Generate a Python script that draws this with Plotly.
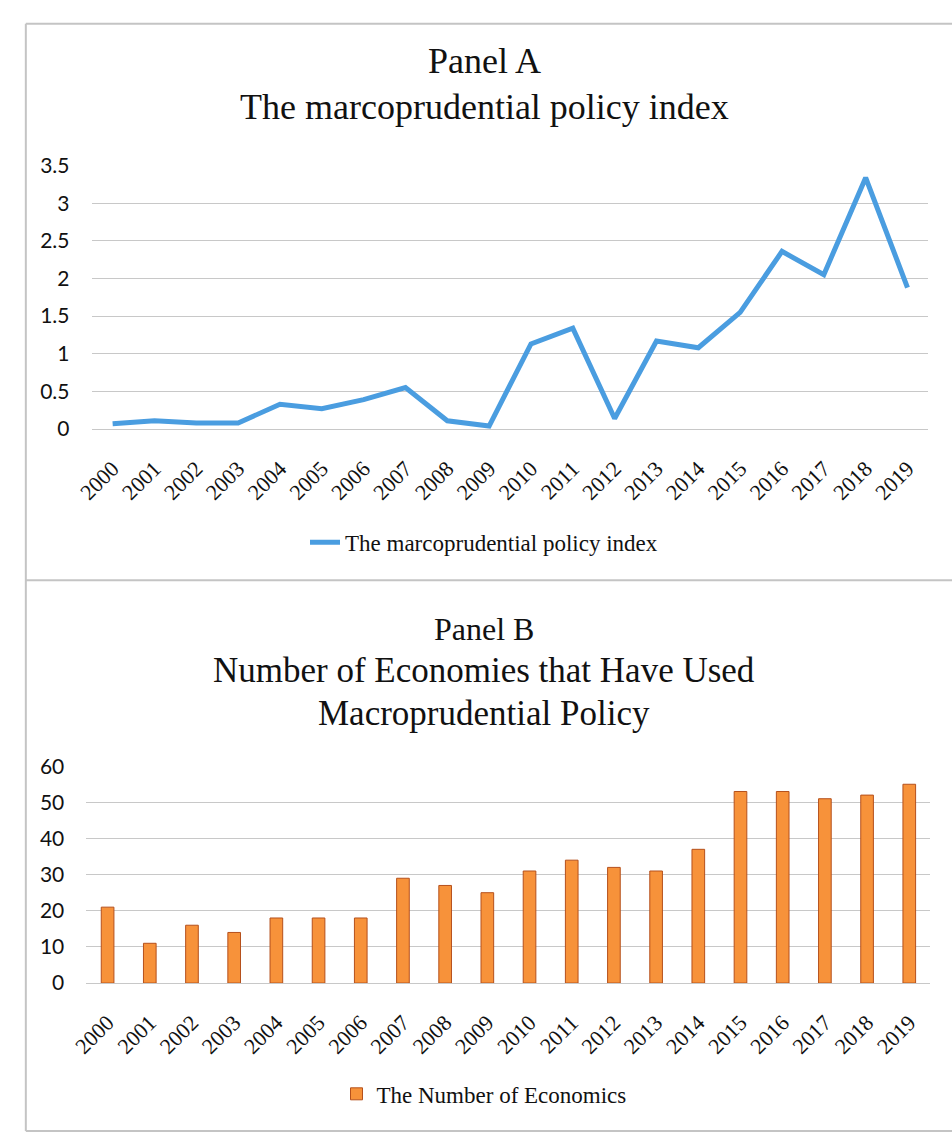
import plotly.graph_objects as go

# Years shared by both panels
years = [str(y) for y in range(2000, 2020)]

# Panel A: macroprudential policy index
policy_index = [0.07, 0.11, 0.08, 0.08, 0.33, 0.27, 0.39, 0.55, 0.11, 0.04,
                1.13, 1.34, 0.14, 1.17, 1.08, 1.55, 2.36, 2.05, 3.34, 1.88]

# Panel B: number of economies using macroprudential policy
economies = [21, 11, 16, 14, 18, 18, 18, 29, 27, 25,
             31, 34, 32, 31, 37, 53, 53, 51, 52, 55]

W, H = 952, 1144
SERIF = "Liberation Serif, Times New Roman, serif"
SANS = "Lato, Calibri, sans-serif"


def py(pixel_y):
    """Convert a pixel row (from the top) to paper y."""
    return 1 - pixel_y / H


def px(pixel_x):
    return pixel_x / W


fig = go.Figure()

fig.add_trace(go.Scatter(
    x=years, y=policy_index, mode="lines",
    name="The marcoprudential policy index",
    line=dict(color="#4A9DE0", width=5),
    xaxis="x", yaxis="y", legend="legend",
))

fig.add_trace(go.Bar(
    x=years, y=economies,
    name="The Number of Economics",
    marker=dict(color="#F7923A", line=dict(color="#B5501C", width=1)),
    xaxis="x2", yaxis="y2", legend="legend2",
))

grid = "#c8c8c8"
xcommon = dict(
    type="category", range=[-0.5, len(years) - 0.5],
    showgrid=False, showline=False, zeroline=False,
    tickangle=-45, tickfont=dict(family=SERIF, size=22, color="#111"),
    ticks="outside", ticklen=17, tickcolor="rgba(0,0,0,0)",
)
ycommon = dict(
    showgrid=True, gridcolor=grid, gridwidth=1, zeroline=True,
    zerolinecolor=grid, zerolinewidth=1, showline=False,
    tickfont=dict(family=SANS, size=21, color="#111"),
    ticks="outside", ticklen=17, tickcolor="rgba(0,0,0,0)",
)

fig.update_layout(
    width=W, height=H,
    margin=dict(l=0, r=0, t=0, b=0),
    paper_bgcolor="white", plot_bgcolor="white",
    showlegend=True,
    xaxis=dict(domain=[px(77), px(928)], anchor="y", **xcommon),
    yaxis=dict(domain=[py(424.3), py(155)], anchor="x", range=[0, 3.5],
               tickvals=[0, 0.5, 1, 1.5, 2, 2.5, 3, 3.5],
               ticktext=["0", "0.5", "1", "1.5", "2", "2.5", "3", "3.5"],
               **ycommon),
    xaxis2=dict(domain=[px(71.7), px(930)], anchor="y2", **xcommon),
    yaxis2=dict(domain=[py(990.7), py(769)], anchor="x2", range=[0, 60],
                tickvals=[0, 10, 20, 30, 40, 50, 60], **ycommon),
    bargap=0.7,
    legend=dict(x=0.5, xanchor="center", y=py(540), yanchor="middle",
                orientation="h", font=dict(family=SERIF, size=23, color="#111"),
                bgcolor="rgba(0,0,0,0)"),
    legend2=dict(x=0.5, xanchor="center", y=py(1104), yanchor="middle",
                 orientation="h", font=dict(family=SERIF, size=23, color="#111"),
                 bgcolor="rgba(0,0,0,0)"),
)

# Panel titles
titles = [
    ("Panel A", 48, 36),
    ("The marcoprudential policy index", 95, 36),
    ("Panel B", 629, 32),
    ("Number of Economies that Have Used", 671, 35),
    ("Macroprudential Policy", 715, 35),
]
for text, yy, size in titles:
    fig.add_annotation(text=text, xref="paper", yref="paper", x=0.5, y=py(yy),
                       xanchor="center", yanchor="middle", showarrow=False,
                       font=dict(family=SERIF, size=size, color="#111"))

# Frame lines around and between the panels
border = dict(color="#c4c4c4", width=2)
for x0, y0, x1, y1 in [(10, 10, 952, 10), (10, 10, 10, 1142),
                       (10, 579, 952, 579), (10, 1142, 952, 1142)]:
    fig.add_shape(type="line", xref="paper", yref="paper",
                  x0=px(x0), y0=py(y0), x1=px(x1), y1=py(y1), line=border)

fig.write_html("out.html")
